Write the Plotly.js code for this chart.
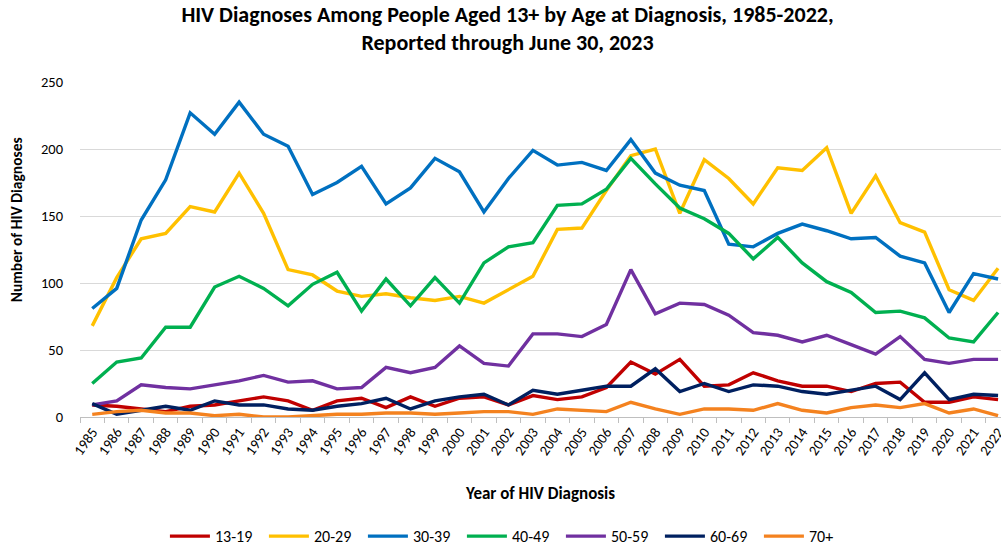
<!DOCTYPE html>
<html>
<head>
<meta charset="utf-8">
<script src="https://cdn.plot.ly/plotly-3.0.1.min.js"></script>
<style>
  html, body { margin: 0; padding: 0; background: #fff; }
  #chart { width: 1001px; height: 547px; }
</style>
</head>
<body>
<div id="chart"></div>
<script>
const years = ["1985","1986","1987","1988","1989","1990","1991","1992","1993","1994","1995","1996","1997","1998","1999","2000","2001","2002","2003","2004","2005","2006","2007","2008","2009","2010","2011","2012","2013","2014","2015","2016","2017","2018","2019","2020","2021","2022"];

const age13_19 = [9,8,6,4,8,9,12,15,12,5,12,14,7,15,8,14,15,9,16,13,15,22,41,32,43,23,24,33,27,23,23,19,25,26,11,11,15,13];
const age20_29 = [68,104,133,137,157,153,182,152,110,106,94,90,92,89,87,90,85,95,105,140,141,169,195,200,152,192,178,159,186,184,201,152,180,145,138,95,87,111];
const age30_39 = [81,96,147,177,227,211,235,211,202,166,175,187,159,171,193,183,153,178,199,188,190,184,207,182,173,169,129,127,137,144,139,133,134,120,115,78,107,103];
const age40_49 = [25,41,44,67,67,97,105,96,83,99,108,79,103,83,104,85,115,127,130,158,159,170,193,174,156,148,137,118,134,115,101,93,78,79,74,59,56,78];
const age50_59 = [9,12,24,22,21,24,27,31,26,27,21,22,37,33,37,53,40,38,62,62,60,69,110,77,85,84,76,63,61,56,61,54,47,60,43,40,43,43];
const age60_69 = [10,2,5,8,5,12,9,9,6,5,8,10,14,6,12,15,17,9,20,17,20,23,23,36,19,25,19,24,23,19,17,20,23,13,33,13,17,16];
const age70plus = [2,4,5,3,3,1,2,0,0,1,2,2,3,3,2,3,4,4,2,6,5,4,11,6,2,6,6,5,10,5,3,7,9,7,10,3,6,1];

const seriesNames = ["13-19","20-29","30-39","40-49","50-59","60-69","70+"];
const seriesValues = [age13_19, age20_29, age30_39, age40_49, age50_59, age60_69, age70plus];
const seriesColors = ["#C00000","#FFC000","#0070C0","#00B050","#7030A0","#002060","#F4821F"];

const font = "Carlito, Calibri, Lato, 'Open Sans', sans-serif";

const traces = seriesNames.map((name, i) => ({
  type: "scatter",
  mode: "lines",
  name: name,
  x: years,
  y: seriesValues[i],
  line: { color: seriesColors[i], width: 3.4 },
  hoverinfo: "x+y+name"
}));

const layout = {
  width: 1001,
  height: 547,
  paper_bgcolor: "#ffffff",
  plot_bgcolor: "#ffffff",
  margin: { l: 80, r: 0, t: 82, b: 130, pad: 0, autoexpand: false },
  font: { family: font, size: 14, color: "#000000" },
  title: {
    text: "<b>HIV Diagnoses Among People Aged 13+ by Age at Diagnosis, 1985-2022,<br>Reported through June 30, 2023</b>",
    font: { family: font, size: 22, color: "#000000" },
    x: 0.507, xanchor: "center",
    y: 0.96, yanchor: "top"
  },
  xaxis: {
    type: "category",
    range: [-0.5, 37.12],
    tickson: "boundaries",
    ticks: "outside",
    ticklen: 5,
    tickcolor: "#BFBFBF",
    showline: true,
    linecolor: "#BFBFBF",
    linewidth: 1,
    showgrid: false,
    tickangle: -55,
    automargin: false,
    tickfont: { family: font, size: 14.5, color: "#000000" },
    title: { text: "<b>Year of HIV Diagnosis</b>", font: { family: font, size: 17, color: "#000000" }, standoff: 29 },
    fixedrange: true
  },
  yaxis: {
    range: [0, 250],
    tickvals: [0, 50, 100, 150, 200, 250],
    showgrid: true,
    gridcolor: "#D9D9D9",
    gridwidth: 1,
    zeroline: false,
    showline: false,
    ticks: "",
    automargin: false,
    ticklabelstandoff: 16,
    tickfont: { family: font, size: 14.5, color: "#000000" },
    fixedrange: true
  },
  annotations: [{
    text: "<b>Number of HIV Diagnoses</b>",
    textangle: -90,
    xref: "paper", yref: "paper",
    x: (16.5 - 80) / 921, xanchor: "center",
    y: (416.7 - 219.5) / 335, yanchor: "middle",
    showarrow: false,
    font: { family: font, size: 15.5, color: "#000000" }
  }],
  showlegend: true,
  legend: {
    orientation: "h",
    x: 0.0922, xanchor: "left",
    y: -0.356, yanchor: "middle",
    font: { family: font, size: 16, color: "#000000" },
    entrywidth: 44,
    entrywidthmode: "pixels",
    itemwidth: 40,
    traceorder: "normal"
  }
};

Plotly.newPlot("chart", traces, layout, { displayModeBar: false, staticPlot: true });
</script>
</body>
</html>
